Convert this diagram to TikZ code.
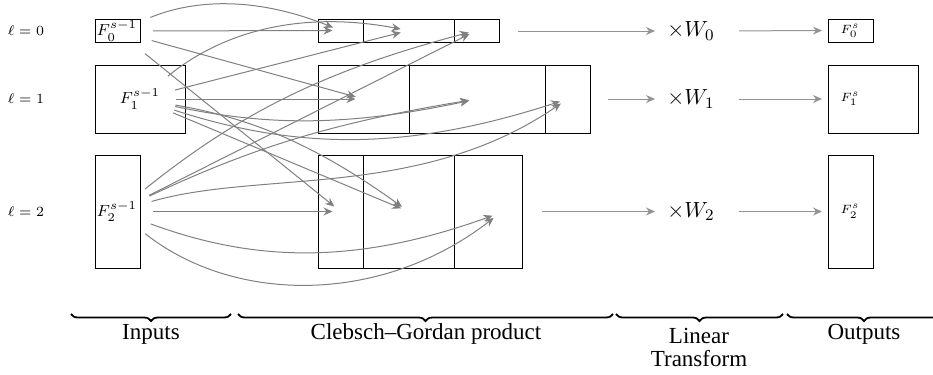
\documentclass[tikz,border=0pt]{standalone}
\usepackage{fontspec}
\newfontfamily\timesfont[Ligatures=TeX]{Liberation Serif}
\usetikzlibrary{arrows.meta,decorations.pathreplacing}
\newcommand\boxat[6][]{\node[box,#1,minimum width={(#4-#3)*0.5pt},minimum height={(#6-#5)*0.5pt}] (#2) at ({(#3+#4)/2},{(#5+#6)/2}) {};}
\begin{document}
\begin{tikzpicture}[x=0.5pt,y=-0.5pt,
  box/.style={draw=black,line width=0.5pt,inner sep=0pt,outer sep=0pt,rectangle},
  conn/.style={draw=gray,line width=0.5pt,-{Stealth[length=4.5pt,width=4pt]},shorten <=18pt,shorten >=4pt},
  stage/.style={draw=gray!85,line width=0.5pt,-{Stealth[length=4.5pt,width=4pt]}},
  lvl/.style={font=\fontsize{7}{8}\selectfont,inner sep=0pt},
  inlab/.style={font=\fontsize{8}{9}\selectfont,inner sep=0pt},
  outlab/.style={font=\fontsize{6.5}{7.5}\selectfont,inner sep=0pt},
  wlab/.style={font=\fontsize{11}{12}\selectfont,inner sep=0pt},
  brlab/.style={font=\timesfont\fontsize{11.5}{11.5}\selectfont,align=center,inner sep=0pt},
  brc/.style={decorate,decoration={brace,mirror,amplitude=3.5pt},line width=0.9pt}
]
\useasboundingbox (0,0) rectangle (933,375);
% level labels
\node[lvl] (L0) at (26,31) {$\ell=0$};
\node[lvl] (L1) at (26,99) {$\ell=1$};
\node[lvl] (L2) at (26,211.5) {$\ell=2$};
% inputs
\boxat{in0}{95}{140}{19}{42}
\boxat{in1}{95}{185}{65}{133}
\boxat{in2}{95}{140}{155}{268}
\node[inlab] (f0) at (117,31) {$F_0^{s-1}$};
\node[inlab] (f1) at (140,99) {$F_1^{s-1}$};
\node[inlab] (f2) at (117,211.5) {$F_2^{s-1}$};
% CG product segments
\boxat{s00}{318}{363}{19}{42}
\boxat{s01}{363}{454}{19}{42}
\boxat{s02}{454}{499}{19}{42}
\boxat{s10}{318}{409}{65}{133}
\boxat{s11}{409}{545}{65}{133}
\boxat{s12}{545}{590}{65}{133}
\boxat{s20}{318}{363}{155}{268}
\boxat{s21}{363}{454}{155}{268}
\boxat{s22}{454}{522}{155}{268}
\coordinate (t22) at (500,213);
% connectors
\draw[conn] (f0.center) -- (s00.center);
\draw[conn] (f0.center) to[bend left=22] (s00.center);
\draw[conn] (f0.center) -- (s10.center);
\draw[conn] (f0.center) -- (s20.center);
\draw[conn] (f1.center) -- (s01.center);
\draw[conn] (f1.center) to[bend left=25] (s01.center);
\draw[conn] (f1.center) -- (s10.center);
\draw[conn] (f1.center) to[bend right=12] (s11.center);
\draw[conn] (f1.center) to[bend right=18] (s12.center);
\draw[conn] (f1.center) -- (s21.center);
\draw[conn] (f1.center) to[bend left=13] (s21.center);
\draw[conn] (f2.center) -- (s02.center);
\draw[conn] (f2.center) to[bend left=12] (s02.center);
\draw[conn] (f2.center) to[bend left=8] (s11.center);
\draw[conn] (f2.center) .. controls (260,170) and (420,200) .. (s12.center);
\draw[conn] (f2.center) -- (s20.center);
\draw[conn] (f2.center) to[bend right=20] (t22);
\draw[conn] (f2.center) to[bend right=38] (t22);
% linear transform
\coordinate (a0) at (518,31);
\coordinate (a1) at (608,99);
\coordinate (a2) at (542,211.5);
\node[wlab] (W0) at (691,31) {$\times W_0$};
\node[wlab] (W1) at (691,99) {$\times W_1$};
\node[wlab] (W2) at (691,211.5) {$\times W_2$};
% outputs
\boxat{o0}{828}{873}{19}{42}
\boxat{o1}{828}{918}{65}{133}
\boxat{o2}{828}{873}{155}{268}
\node[outlab] (g0) at (850,31) {$F_0^{s}$};
\node[outlab] (g1) at (850,99) {$F_1^{s}$};
\node[outlab] (g2) at (850,211.5) {$F_2^{s}$};
\draw[stage,shorten >=6pt] (a0) -- (W0.west);
\draw[stage,shorten >=6pt] (a1) -- (W1.west);
\draw[stage,shorten >=6pt] (a2) -- (W2.west);
\draw[stage,shorten <=12pt,shorten >=3pt] (W0.east) -- (o0.west);
\draw[stage,shorten <=12pt,shorten >=3pt] (W1.east) -- (o1.west);
\draw[stage,shorten <=12pt,shorten >=3pt] (W2.east) -- (o2.west);
% braces
\coordinate (b0l) at (71,314); \coordinate (b0r) at (231,314);
\coordinate (b1l) at (238,314); \coordinate (b1r) at (613,314);
\coordinate (b2l) at (616,314); \coordinate (b2r) at (783,314);
\coordinate (b3l) at (787,314); \coordinate (b3r) at (941,314);
\draw[brc] (b0l) -- (b0r);
\draw[brc] (b1l) -- (b1r);
\draw[brc] (b2l) -- (b2r);
\draw[brc] (b3l) -- (b3r);
\node[brlab] (lb0) at (151,334) {Inputs};
\node[brlab] (lb1) at (426,334) {Clebsch–Gordan product};
\node[brlab] (lb2) at (699,347.5) {Linear\\Transform};
\node[brlab] (lb3) at (864,334) {Outputs};
\end{tikzpicture}
\end{document}
